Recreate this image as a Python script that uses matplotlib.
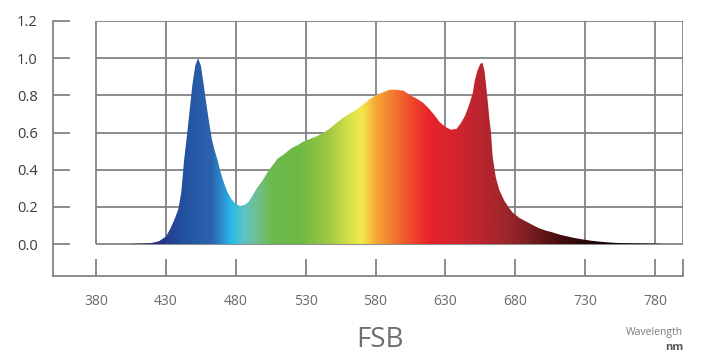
import numpy as np
import matplotlib
matplotlib.use('Agg')
import matplotlib.pyplot as plt
from matplotlib.colors import LinearSegmentedColormap

# Espectro relativo
longitudes = [405, 410, 415, 420, 425, 430, 433, 436, 439, 441, 443, 445, 447, 449, 451, 453,
              455, 457, 459, 461, 463, 465, 467, 469, 471, 474, 477, 480, 483, 486, 489, 492,
              495, 499, 503, 506, 510, 514, 518, 521, 525, 528, 533, 538, 543, 547, 551, 556,
              561, 566, 571, 575, 580, 585, 590, 595, 600, 605, 610, 614, 618, 622, 626, 630,
              634, 638, 641, 644, 647, 649.5, 651, 653, 655, 656.5, 658, 659.3, 660.5, 661.5,
              662.6, 663.8, 666, 668.6, 672, 675, 678, 683, 688, 693, 697, 702, 707, 712, 716,
              722, 728, 734, 740, 746, 752, 760, 770, 780, 786]
intensidad = [0.0, 0.002, 0.003, 0.006, 0.015, 0.04, 0.08, 0.13, 0.19, 0.28, 0.45, 0.58, 0.72, 0.86, 0.96, 1.0,
              0.96, 0.86, 0.75, 0.65, 0.56, 0.50, 0.45, 0.39, 0.34, 0.28, 0.24, 0.215, 0.205, 0.21, 0.225, 0.26,
              0.30, 0.34, 0.39, 0.42, 0.46, 0.48, 0.505, 0.52, 0.535, 0.55, 0.565, 0.58, 0.60, 0.62, 0.645, 0.675,
              0.70, 0.72, 0.75, 0.775, 0.80, 0.815, 0.83, 0.83, 0.825, 0.80, 0.78, 0.76, 0.73, 0.695, 0.655, 0.63,
              0.615, 0.62, 0.65, 0.69, 0.75, 0.81, 0.88, 0.935, 0.97, 0.975, 0.93, 0.84, 0.75, 0.67,
              0.60, 0.47, 0.36, 0.29, 0.235, 0.20, 0.17, 0.14, 0.12, 0.10, 0.085, 0.072, 0.062, 0.05, 0.043,
              0.033, 0.025, 0.018, 0.013, 0.009, 0.006, 0.004, 0.003, 0.002, 0.0]

xticks = [380, 430, 480, 530, 580, 630, 680, 730, 780]
yticks = [0.0, 0.2, 0.4, 0.6, 0.8, 1.0, 1.2]

# Colores del espectro visible
paradas = [(405, '#2a2460'), (420, '#2a2d78'), (430, '#233e90'), (445, '#2455a3'), (462, '#2c63ae'),
           (470, '#2a8fcf'), (476, '#27b8ea'), (485, '#5cc4c6'), (495, '#6fbf8c'), (505, '#6dba4e'),
           (525, '#6cb944'), (545, '#9cc743'), (560, '#d4e04a'), (570, '#f2e94a'), (580, '#f7a637'),
           (592, '#f37a30'), (605, '#ee4a2b'), (618, '#e8232a'), (640, '#d02530'), (660, '#b3262e'),
           (675, '#9a262b'), (690, '#7a1e21'), (710, '#4a0d0f'), (730, '#260505'), (760, '#0a0000'),
           (790, '#000000')]

gris = '#828286'
plt.rcParams['font.family'] = ['Open Sans', 'DejaVu Sans']

fig = plt.figure(figsize=(7.03, 3.59), dpi=100)
ax = fig.add_axes([53 / 703, (359 - 276) / 359, 630 / 703, 255 / 359])
ax.set_xlim(349.2, 800)
ax.set_ylim(-0.172, 1.2)

# cuadrícula
ax.hlines(yticks, 380, 800, color=gris, lw=1.3, zorder=1)
ax.vlines(xticks + [800], 0, 1.2, color=gris, lw=1.3, zorder=1)

# relleno con degradado
lo, hi = paradas[0][0], paradas[-1][0]
cmap = LinearSegmentedColormap.from_list(
    'espectro', [((w - lo) / (hi - lo), c) for w, c in paradas], N=512)
poly = ax.fill_between(longitudes, intensidad, 0, color='none', lw=0)
img = ax.imshow(np.linspace(0, 1, 800)[None, :], cmap=cmap, aspect='auto',
                extent=[lo, hi, 0, 1.2], zorder=2, interpolation='bilinear')
img.set_clip_path(poly.get_paths()[0], transform=ax.transData)

for s in ['top', 'right']:
    ax.spines[s].set_visible(False)
for s in ['left', 'bottom']:
    ax.spines[s].set_color(gris)
    ax.spines[s].set_linewidth(1.3)

ax.set_yticks(yticks)
ax.set_yticklabels([f'{v:.1f}' for v in yticks])
ax.set_xticks(xticks + [800])
ax.set_xticklabels([str(v) for v in xticks] + [''])
ax.tick_params(axis='y', direction='in', length=12, width=1.3, color=gris,
               labelsize=10.5, labelcolor='#3c3c3c', pad=11)
ax.tick_params(axis='x', direction='in', length=12, width=1.3, color=gris,
               labelsize=10, labelcolor='#6a6a6a', pad=13)

fig.text(380 / 703, 1 - 340 / 359, 'FSB', ha='center', va='center', fontsize=20, color='#6d6e71')
fig.text(683 / 703, 1 - 332 / 359, 'Wavelength', ha='right', va='center', fontsize=7.5, color='#7a7a7a')
fig.text(683 / 703, 1 - 348 / 359, 'nm', ha='right', va='center', fontsize=8, fontweight='bold', color='#555555')

fig.savefig('out.png', dpi=100)
